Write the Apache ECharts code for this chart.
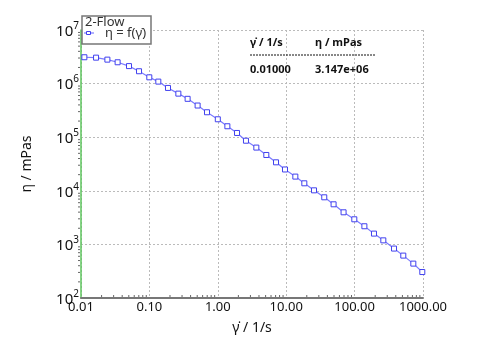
<!DOCTYPE html>
<html>
<head>
<meta charset="utf-8">
<script src="https://cdn.jsdelivr.net/npm/echarts@6/dist/echarts.min.js"></script>
<style>html,body{margin:0;padding:0;background:#fff}#c{width:477px;height:350px}</style>
</head>
<body>
<div id="c"></div>
<script>
// Shear rate (1/s)
var shearRate = [0.0112, 0.0166, 0.0243, 0.0343, 0.0503, 0.0705, 0.0997, 0.135, 0.187, 0.265, 0.362, 0.507, 0.695, 1.0, 1.38, 1.91, 2.58, 3.66, 5.12, 7.10, 9.60, 13.6, 18.4, 25.5, 36.0, 49.3, 69.0, 99.0, 139, 192, 263, 377, 515, 722, 977];
// Viscosity (mPas)
var viscosity = [3.10e6, 3.05e6, 2.80e6, 2.50e6, 2.12e6, 1.70e6, 1.31e6, 1.09e6, 8.3e5, 6.5e5, 5.2e5, 3.9e5, 2.92e5, 2.16e5, 1.60e5, 1.20e5, 8.6e4, 6.4e4, 4.66e4, 3.40e4, 2.50e4, 1.84e4, 1.38e4, 1.02e4, 7.56e3, 5.60e3, 3.97e3, 2.94e3, 2.18e3, 1.59e3, 1.19e3, 836, 618, 438, 305];
var xTickLabels = {"0.01": "0.01", "0.1": "0.10", "1": "1.00", "10": "10.00", "100": "100.00", "1000": "1000.00"};
var seriesName = "η = f(γ̇)";
var legendTitle = "2-Flow";
var tableHeader = ["γ̇ / 1/s", "η / mPas"];
var tableRow = ["0.01000", "3.147e+06"];

var xMinor = [], yMinor = [];
for (var e = -2; e < 3; e++) for (var m = 2; m < 10; m++) xMinor.push(m * Math.pow(10, e));
for (var e2 = 2; e2 < 7; e2++) for (var m2 = 2; m2 < 10; m2++) yMinor.push(m2 * Math.pow(10, e2));

var FONT = "Noto Sans";
var LINE_COLOR = '#7b7bff', MARK_COLOR = '#4040ee';
var chart = echarts.init(document.getElementById('c'), null, {renderer: 'canvas'});
var option = {
  animation: false,
  textStyle: {fontFamily: FONT},
  grid: {left: 81, right: 54, top: 30, bottom: 52, containLabel: false},
  xAxis: {
    type: 'log', min: 0.01, max: 1000, logBase: 10,
    name: "γ̇ / 1/s", nameLocation: 'middle', nameGap: 23,
    nameTextStyle: {fontSize: 14, color: '#111', fontFamily: FONT},
    axisLine: {show: true, onZero: false, lineStyle: {color: '#777', width: 2}},
    axisTick: {show: false},
    axisLabel: {fontSize: 13, color: '#111', margin: 3, showMinLabel: true, showMaxLabel: true,
      formatter: function (v) { var k = String(+v.toPrecision(3)); return xTickLabels[k] || ''; }},
    splitLine: {show: true, lineStyle: {color: '#bbb', type: [2, 2], width: 1}}
  },
  yAxis: {
    type: 'log', min: 100, max: 1e7, logBase: 10,
    name: "η / mPas", nameLocation: 'middle', nameGap: 47, nameRotate: 90,
    nameTextStyle: {fontSize: 14, color: '#111', fontFamily: FONT},
    axisLine: {show: true, onZero: false, lineStyle: {color: '#5cc45c', width: 1.5}},
    axisTick: {show: false},
    axisLabel: {margin: 2, color: '#111',
      formatter: function (v) { return '{b|10}{s|' + Math.round(Math.log10(v)) + '}'; },
      rich: {b: {fontSize: 15, fontFamily: FONT, color: '#111', verticalAlign: 'bottom', lineHeight: 18},
             s: {fontSize: 10, fontFamily: FONT, color: '#111', verticalAlign: 'top', lineHeight: 18, padding: [0, 0, 7, 0]}}},
    splitLine: {show: true, lineStyle: {color: '#bbb', type: [2, 2], width: 1}}
  },
  legend: {show: false},
  graphic: [
    {type: 'rect', z: 10, shape: {x: 82, y: 16, width: 69, height: 28},
     style: {fill: '#fff', stroke: '#777', lineWidth: 1.5}},
    {type: 'text', left: 85, top: 16, z: 11,
     style: {text: legendTitle, font: '13px "Noto Sans"', fill: '#333'}},
    {type: 'line', z: 11, shape: {x1: 84, y1: 33, x2: 94, y2: 33}, style: {stroke: LINE_COLOR, lineWidth: 1.2}},
    {type: 'rect', z: 12, shape: {x: 86.5, y: 31.5, width: 4, height: 3}, style: {fill: '#fff', stroke: MARK_COLOR, lineWidth: 1}},
    {type: 'text', left: 105, top: 27, z: 11,
     style: {text: seriesName, font: '13px "Noto Sans"', fill: '#333'}},
    {type: 'text', left: 250, top: 37, z: 5, style: {text: tableHeader[0], font: 'bold 11px "Noto Sans"', fill: '#111'}},
    {type: 'text', left: 315, top: 37, z: 5, style: {text: tableHeader[1], font: 'bold 11px "Noto Sans"', fill: '#111'}},
    {type: 'line', z: 5, shape: {x1: 250, y1: 55, x2: 375, y2: 55}, style: {stroke: '#111', lineWidth: 1, lineDash: [2, 1]}},
    {type: 'text', left: 250, top: 64, z: 5, style: {text: tableRow[0], font: 'bold 11px "Noto Sans"', fill: '#111'}},
    {type: 'text', left: 315, top: 64, z: 5, style: {text: tableRow[1], font: 'bold 11px "Noto Sans"', fill: '#111'}}
  ],
  series: [
    {
      name: seriesName, type: 'line', z: 3,
      data: shearRate.map(function (x, i) { return [x, viscosity[i]]; }),
      symbol: 'rect', symbolSize: 5, showSymbol: true,
      lineStyle: {color: LINE_COLOR, width: 1.2},
      itemStyle: {color: '#fff', borderColor: MARK_COLOR, borderWidth: 1}
    },
    {
      type: 'custom', silent: true, z: 2,
      data: xMinor.map(function (v) { return [v, 100]; }),
      renderItem: function (p, api) {
        var pt = api.coord([api.value(0), 100]);
        return {type: 'line', shape: {x1: pt[0], y1: pt[1] - 1, x2: pt[0], y2: pt[1] - 3}, style: {stroke: '#666', lineWidth: 1}};
      }
    },
    {
      type: 'custom', silent: true, z: 2,
      data: yMinor.map(function (v) { return [0.01, v]; }),
      renderItem: function (p, api) {
        var pt = api.coord([0.01, api.value(1)]);
        return {type: 'line', shape: {x1: pt[0] - 3, y1: pt[1], x2: pt[0] - 1, y2: pt[1]}, style: {stroke: '#666', lineWidth: 1}};
      }
    }
  ]
};
chart.setOption(option);
</script>
</body>
</html>
